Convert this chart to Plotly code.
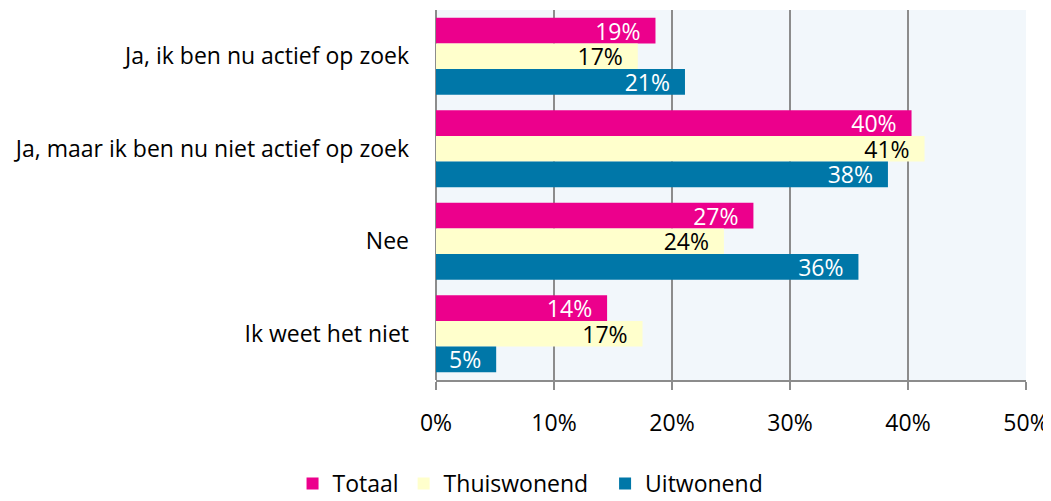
import plotly.graph_objects as go

categories = ["Ja, ik ben nu actief op zoek", "Ja, maar ik ben nu niet actief op zoek", "Nee", "Ik weet het niet"]
series_names = ["Totaal", "Thuiswonend", "Uitwonend"]
totaal = [18.6, 40.3, 26.9, 14.5]
thuiswonend = [17.1, 41.4, 24.4, 17.5]
uitwonend = [21.1, 38.3, 35.8, 5.1]
labels_totaal = ["19%", "40%", "27%", "14%"]
labels_thuis = ["17%", "41%", "24%", "17%"]
labels_uit = ["21%", "38%", "36%", "5%"]
tick_vals = [0, 10, 20, 30, 40, 50]
tick_text = ["0%", "10%", "20%", "30%", "40%", "50%"]

font = "Open Sans"
fs = 23
pad = "\u00a0\u00a0"
legend_pad = ["", "\u00a0\u00a0", ""]
fig = go.Figure()
for i, (vals, labs, color, tcolor) in enumerate([
    (totaal, labels_totaal, "#EC008C", "white"),
    (thuiswonend, labels_thuis, "#FFFFCC", "black"),
    (uitwonend, labels_uit, "#0077A8", "white"),
]):
    fig.add_trace(go.Bar(
        y=categories, x=vals, name=series_names[i] + legend_pad[i], orientation="h",
        marker=dict(color=color, line=dict(width=0)),
        text=[l + pad for l in labs], textposition="inside", insidetextanchor="end",
        constraintext="none",
        textfont=dict(color=tcolor, size=fs, family=font),
        cliponaxis=False,
    ))

# page body has an 8px margin; size the figure so it fits the 1051x501 window
fig.update_layout(
    width=1043, height=493,
    margin=dict(l=428, r=25, t=2, b=121, autoexpand=False),
    barmode="group", bargap=0.17, bargroupgap=0,
    plot_bgcolor="#F2F7FB", paper_bgcolor="white",
    font=dict(family=font, size=fs, color="black"),
    legend=dict(orientation="h", xref="container", yref="paper",
                x=0.501, xanchor="center", y=-0.338, yanchor="bottom",
                font=dict(size=fs, family=font), traceorder="normal",
                itemwidth=30),
    showlegend=True,
)
fig.update_xaxes(range=[0, 50], tickvals=tick_vals, ticktext=tick_text,
                 showgrid=True, gridcolor="#8C8C8C", gridwidth=2,
                 ticks="outside", ticklen=8, tickcolor="#8C8C8C", tickwidth=2,
                 zeroline=True, zerolinecolor="#8C8C8C", zerolinewidth=2,
                 showline=True, linecolor="#8C8C8C", linewidth=2,
                 ticklabelstandoff=13, automargin=False,
                 tickfont=dict(size=fs, family=font))
fig.update_yaxes(autorange="reversed", ticks="", showline=False, automargin=False,
                 ticklabelstandoff=26, tickfont=dict(size=fs, family=font))
fig.write_html("out.html")
